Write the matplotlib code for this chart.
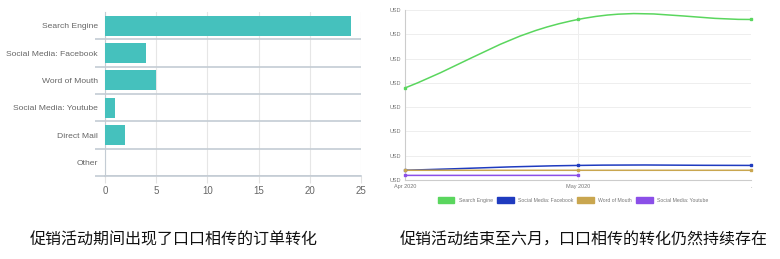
import matplotlib
matplotlib.use("Agg")
import matplotlib.pyplot as plt
import numpy as np
from matplotlib.path import Path
from matplotlib.patches import PathPatch, Patch

plt.rcParams['font.family'] = ['Liberation Sans', 'DejaVu Sans']

# left: orders by channel
channels = ['Search Engine', 'Social Media: Facebook', 'Word of Mouth',
            'Social Media: Youtube', 'Direct Mail', 'Other']
orders = [24, 4, 5, 1, 2, 0]

# right: revenue trend
months = ['Apr 2020', 'May 2020', 'Jun 2020']
series_names = ['Search Engine', 'Social Media: Facebook', 'Word of Mouth', 'Social Media: Youtube']
search_engine = [3.79, 6.61, 6.61]
facebook = [0.40, 0.60, 0.60]
word_of_mouth = [0.40, 0.40, 0.40]
youtube = [0.19, 0.19]
series_colors = ['#5AD65E', '#1F3BBF', '#C9A64F', '#8B4FE8']

caption_left = '促销活动期间出现了口口相传的订单转化'
caption_right = '促销活动结束至六月，口口相传的转化仍然持续存在'

W, H = 780, 259
fig = plt.figure(figsize=(W / 100, H / 100), dpi=100)


def box(x0, y0, x1, y1):
    return [x0 / W, 1 - y1 / H, (x1 - x0) / W, (y1 - y0) / H]


# ---- bar chart
ax = fig.add_axes(box(105, 12, 361, 176))
y = np.arange(len(channels))
ax.barh(y, orders, height=0.73, color='#45C1BD', zorder=3)
ax.set_ylim(len(channels) - 0.5, -0.5)
ax.set_xlim(0, 25)
ax.set_xticks([0, 5, 10, 15, 20, 25])
ax.set_yticks(y)
ax.set_yticklabels(channels, fontsize=6.1, color='#666666')
ax.set_yticks(np.arange(len(channels)) + 0.5, minor=True)
ax.tick_params(axis='y', which='major', length=0, pad=5)
ax.tick_params(axis='y', which='minor', length=7, color='#c4ccd4', width=1.2)
ax.tick_params(axis='x', length=5, color='#e2e2e2', labelsize=7, labelcolor='#666666', pad=2)
ax.grid(axis='x', color='#e6e6e6', lw=0.8, zorder=0)
ax.grid(axis='y', which='minor', color='#c4ccd4', lw=1.2, zorder=1)
for s in ['top', 'right']:
    ax.spines[s].set_visible(False)
ax.spines['left'].set_color('#c4ccd4')
ax.spines['bottom'].set_color('#c4ccd4')
ax.spines['bottom'].set_linewidth(1.2)

# ---- line chart
ax2 = fig.add_axes(box(405, 10, 751, 180))
ax2.set_xlim(0, 2)
ax2.set_ylim(0, 7)
ax2.set_yticks(range(8))
ax2.set_yticklabels(['USD'] * 8, fontsize=4, color='#777777')
ax2.set_xticks(range(3))
ax2.set_xticklabels(['Apr 2020', 'May 2020', '.'], fontsize=4, color='#777777')
ax2.tick_params(length=0, pad=3)
ax2.grid(color='#eeeeee', lw=0.7)
for s in ['top', 'right']:
    ax2.spines[s].set_visible(False)
ax2.spines['left'].set_color('#cccccc')
ax2.spines['bottom'].set_color('#cccccc')

fig.canvas.draw()


def smooth_path(axis, xs, ys, t=0.4):
    # chart.js style bezier through the points, computed in pixel space
    pts = axis.transData.transform(np.column_stack([xs, ys]))
    n = len(pts)
    cp_prev, cp_next = [], []
    for i in range(n):
        p1 = pts[i]
        p0 = pts[i - 1] if i > 0 else p1
        p2 = pts[i + 1] if i < n - 1 else p1
        d01 = np.hypot(*(p1 - p0))
        d12 = np.hypot(*(p2 - p1))
        tot = d01 + d12
        s01 = d01 / tot if tot else 0
        s12 = d12 / tot if tot else 0
        cp_prev.append(p1 - t * s01 * (p2 - p0))
        cp_next.append(p1 + t * s12 * (p2 - p0))
    verts = [pts[0]]
    codes = [Path.MOVETO]
    for i in range(1, n):
        verts += [cp_next[i - 1], cp_prev[i], pts[i]]
        codes += [Path.CURVE4] * 3
    inv = axis.transData.inverted()
    return Path(inv.transform(np.array(verts)), codes)


all_series = [search_engine, facebook, word_of_mouth, youtube]
for vals, col in zip(all_series, series_colors):
    xs = np.arange(len(vals))
    p = smooth_path(ax2, xs, vals)
    ax2.add_patch(PathPatch(p, fill=False, edgecolor=col, lw=1.1, zorder=3, clip_on=True))
    ax2.plot(xs, vals, 's', ms=2, color=col, zorder=4, clip_on=False)

handles = [Patch(facecolor=c, edgecolor=c) for c in series_colors]
fig.legend(handles, series_names, ncol=4, fontsize=3.7, loc='center',
           bbox_to_anchor=(573 / W, 1 - 200 / H), frameon=False,
           handlelength=3.3, handleheight=1.2, columnspacing=0.8, handletextpad=0.8,
           labelcolor='#777777')

# captions
cap_font = ['Noto Sans CJK SC', 'DejaVu Sans']
fig.text(30 / W, 1 - 240 / H, caption_left, fontsize=11.5, family=cap_font, va='center', color='#111111')
fig.text(400 / W, 1 - 240 / H, caption_right, fontsize=11.5, family=cap_font, va='center', color='#111111')

fig.savefig('out.png', dpi=100)
